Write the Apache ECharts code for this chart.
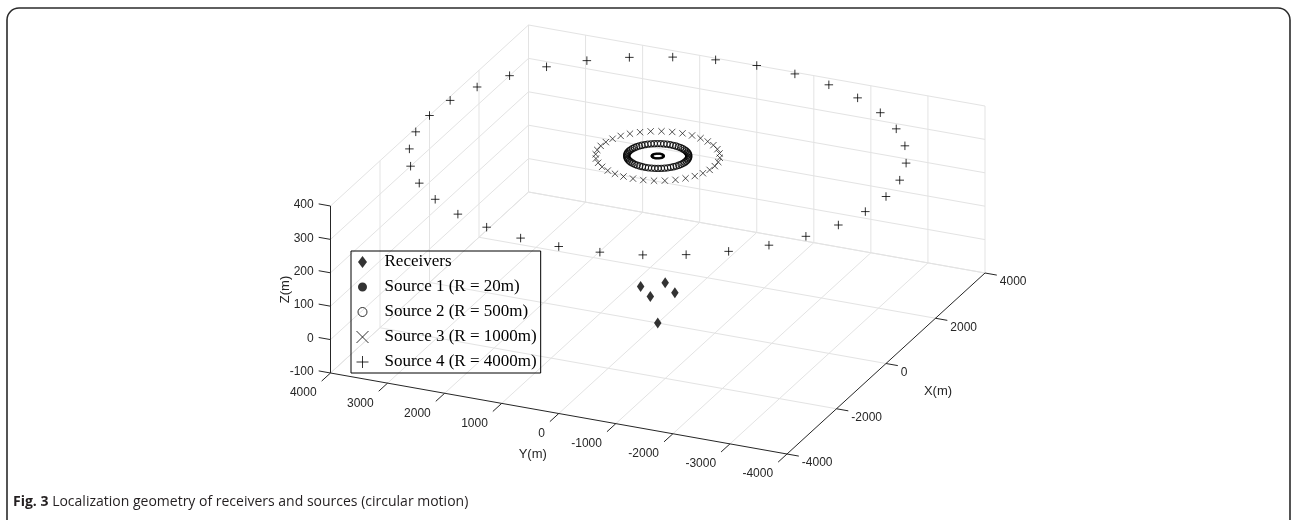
<!DOCTYPE html>
<html><head><meta charset="utf-8">
<script src="https://cdn.jsdelivr.net/npm/echarts@6/dist/echarts.min.js"></script>
<style>html,body{margin:0;padding:0;background:#fff}#c{width:1291px;height:520px}</style>
</head><body><div id="c"></div>
<script>
// ---------------- data ----------------
const receiversX = [300, -300, 0, 0, 0];
const receiversY = [0, 0, 300, -300, 0];
const receiversZ = [0, 0, 0, 0, -100];
const sourceNames = ['Source 1 (R = 20m)', 'Source 2 (R = 500m)', 'Source 3 (R = 1000m)', 'Source 4 (R = 4000m)'];
const sourceRadius = [95, 500, 1000, 4000];     // radius as it appears in the picture (m)
const sourceHeight = [400, 400, 400, 400];      // z of each circular track (m)
const angles36 = [0,10,20,30,40,50,60,70,80,90,100,110,120,130,140,150,160,170,180,190,200,210,220,230,240,250,260,270,280,290,300,310,320,330,340,350];
const angles60 = [0,6,12,18,24,30,36,42,48,54,60,66,72,78,84,90,96,102,108,114,120,126,132,138,144,150,156,162,168,174,180,186,192,198,204,210,216,222,228,234,240,246,252,258,264,270,276,282,288,294,300,306,312,318,324,330,336,342,348,354];
const sourceAngles = [angles36, angles60, angles36, angles36];
const xTicks = [-4000, -2000, 0, 2000, 4000];
const yTicks = [4000, 3000, 2000, 1000, 0, -1000, -2000, -3000, -4000];
const zTicks = [-100, 0, 100, 200, 300, 400];
const xLimits = [-4000, 4000], yLimits = [-4000, 4000], zLimits = [-100, 400];

// ---------------- 3D view (orthographic) ----------------
const P0 = [787, 454];       // screen point of (xmin, ymin, zmin)
const VX = [198, -181];      // screen span of the X range
const VY = [-456.5, -81];    // screen span of the Y range
const VZ = [0, -167];        // screen span of the Z range
function proj(x, y, z) {
  const u = (x - xLimits[0]) / (xLimits[1] - xLimits[0]);
  const v = (y - yLimits[0]) / (yLimits[1] - yLimits[0]);
  const w = (z - zLimits[0]) / (zLimits[1] - zLimits[0]);
  return [P0[0] + u * VX[0] + v * VY[0] + w * VZ[0], P0[1] + u * VX[1] + v * VY[1] + w * VZ[1]];
}
function unit(v) { const l = Math.hypot(v[0], v[1]); return [v[0] / l, v[1] / l]; }

const [x0, x1] = xLimits, [y0, y1] = yLimits, [z0, z1] = zLimits;
const segs = [];
function seg(a, b, k) { const p = proj(a[0], a[1], a[2]), q = proj(b[0], b[1], b[2]); segs.push([p[0], p[1], q[0], q[1], k]); }
// grid lines on floor and back walls
yTicks.forEach(y => { if (y !== y0) seg([x0, y, z0], [x1, y, z0], 0); seg([x1, y, z0], [x1, y, z1], 0); });
xTicks.forEach(x => { if (x !== x0) { seg([x, y0, z0], [x, y1, z0], 0); seg([x, y1, z0], [x, y1, z1], 0); } });
zTicks.forEach(z => { seg([x0, y1, z], [x1, y1, z], 0); seg([x1, y0, z], [x1, y1, z], 0); });
// axis lines
seg([x0, y1, z0], [x0, y1, z1], 1);
seg([x0, y0, z0], [x0, y1, z0], 1);
seg([x0, y0, z0], [x1, y0, z0], 1);
// ticks and labels
const TL = 12;
const dZ = unit(VY), dY = unit([-VX[0], -VX[1]]), dX = unit([-VY[0], -VY[1]]);
const texts = [];
function tick(p, d) { const e = [p[0] + TL * d[0], p[1] + TL * d[1]]; segs.push([p[0], p[1], e[0], e[1], 1]); return e; }
zTicks.forEach(z => { const e = tick(proj(x0, y1, z), dZ); texts.push({ x: e[0] - 5, y: e[1] + 1, text: String(z), align: 'right' }); });
yTicks.forEach(y => { const e = tick(proj(x0, y, z0), dY); texts.push({ x: e[0] - 5, y: e[1] + 12, text: String(y), align: 'right' }); });
xTicks.forEach(x => { const e = tick(proj(x, y0, z0), dX); texts.push({ x: e[0] + 3, y: e[1] + 7, text: String(x), align: 'left' }); });
{ const p = proj(x0, y1, (z0 + z1) / 2); texts.push({ x: p[0] - 45, y: p[1], text: 'Z(m)', align: 'center', rot: Math.PI / 2, size: 13 }); }
{ const p = proj(x0, 0, z0); texts.push({ x: p[0] - 26, y: p[1] + 41, text: 'Y(m)', align: 'center', size: 13 }); }
{ const p = proj(0, y0, z0); texts.push({ x: p[0] + 52, y: p[1] + 28, text: 'X(m)', align: 'center', size: 13 }); }

// data points
const receiverPts = receiversX.map((x, i) => proj(x, receiversY[i], receiversZ[i]));
const sourcePts = sourceRadius.map((r, s) => sourceAngles[s].map(a => {
  const t = a * Math.PI / 180; return proj(r * Math.cos(t), r * Math.sin(t), sourceHeight[s]);
}));

const plusPath = 'path://M5,0L5,10M0,5L10,5';
const crossPath = 'path://M0,0L10,10M10,0L0,10';
const smallCircle = 'path://M0,0L0.01,0M12,12L12.01,12M6,1.5A4.5,4.5,0,1,1,5.99,1.5Z';
const diamondIcon = 'path://M3,0L6,4L3,8L0,4Z';

const chart = echarts.init(document.getElementById('c'), null, { renderer: 'canvas' });
chart.setOption({
  animation: false,
  backgroundColor: '#fff',
  grid: { left: 0, right: 0, top: 0, bottom: 0 },
  xAxis: { type: 'value', min: 0, max: 1291, show: false },
  yAxis: { type: 'value', min: 0, max: 520, inverse: true, show: false },
  title: {
    left: 8, top: 490,
    text: '{b|Fig. 3} Localization geometry of receivers and sources (circular motion)',
    textStyle: { fontFamily: 'Open Sans', fontSize: 14, fontWeight: 'normal', color: '#231f20',
      rich: { b: { fontFamily: 'Open Sans', fontSize: 14, fontWeight: 'bold', color: '#231f20' } } }
  },
  legend: {
    left: 351, top: 251, orient: 'vertical',
    itemWidth: 14, itemHeight: 12, itemGap: 8,
    padding: [2.5, 4, 2.5, 5],
    borderColor: '#000', borderWidth: 1, backgroundColor: 'transparent',
    textStyle: { fontFamily: 'Liberation Serif', fontSize: 17, lineHeight: 17, color: '#000', padding: [0, 0, 0, 10] },
    data: [
      { name: 'Receivers', icon: diamondIcon, itemStyle: { color: '#000', borderWidth: 0 } },
      { name: sourceNames[0], icon: smallCircle, itemStyle: { color: '#000', borderWidth: 0 } },
      { name: sourceNames[1], icon: smallCircle, itemStyle: { color: 'transparent', borderColor: '#000', borderWidth: 1 } },
      { name: sourceNames[2], icon: crossPath, itemStyle: { color: 'transparent', borderColor: '#000', borderWidth: 1 } },
      { name: sourceNames[3], icon: plusPath, itemStyle: { color: 'transparent', borderColor: '#000', borderWidth: 1 } }
    ]
  },
  graphic: [{
    type: 'rect', silent: true, z: 100,
    shape: { x: 7, y: 8, width: 1283, height: 560, r: 12 },
    style: { fill: 'none', stroke: '#2b2b2b', lineWidth: 1.6 }
  }],
  series: [
    {
      type: 'custom', silent: true, z: 1, clip: false,
      encode: { x: [0, 2], y: [1, 3] },
      data: segs,
      renderItem: (params, api) => {
        const a = api.coord([api.value(0), api.value(1)]), b = api.coord([api.value(2), api.value(3)]);
        const k = api.value(4);
        return { type: 'line', shape: { x1: a[0], y1: a[1], x2: b[0], y2: b[1] },
          style: { stroke: k ? '#262626' : '#e3e3e3', lineWidth: 1 }, z2: k ? 2 : 1 };
      }
    },
    {
      type: 'custom', silent: true, z: 2, clip: false,
      data: texts.map(t => [t.x, t.y]),
      renderItem: (params, api) => {
        const t = texts[params.dataIndex];
        const c = api.coord([api.value(0), api.value(1)]);
        return { type: 'text', x: c[0], y: c[1], rotation: t.rot || 0,
          style: { text: t.text, align: t.align, verticalAlign: 'middle',
            fontFamily: 'Liberation Sans', fontSize: t.size || 12, fill: '#262626' } };
      }
    },
    { name: 'Receivers', type: 'scatter', z: 5, silent: true, symbol: 'diamond', symbolSize: [7.5, 11],
      itemStyle: { color: '#000' }, data: receiverPts },
    { name: sourceNames[0], type: 'scatter', z: 5, silent: true, symbol: 'circle', symbolSize: 2.5,
      itemStyle: { color: '#000' }, data: sourcePts[0] },
    { name: sourceNames[1], type: 'scatter', z: 5, silent: true, symbol: 'circle', symbolSize: 6.3,
      itemStyle: { color: 'transparent', borderColor: '#000', borderWidth: 1 }, data: sourcePts[1] },
    { name: sourceNames[2], type: 'scatter', z: 5, silent: true, symbol: crossPath, symbolSize: 6.3,
      itemStyle: { color: 'transparent', borderColor: '#111', borderWidth: 0.9 }, data: sourcePts[2] },
    { name: sourceNames[3], type: 'scatter', z: 5, silent: true, symbol: plusPath, symbolSize: 8.5,
      itemStyle: { color: 'transparent', borderColor: '#000', borderWidth: 1 }, data: sourcePts[3] }
  ]
});
</script></body></html>
